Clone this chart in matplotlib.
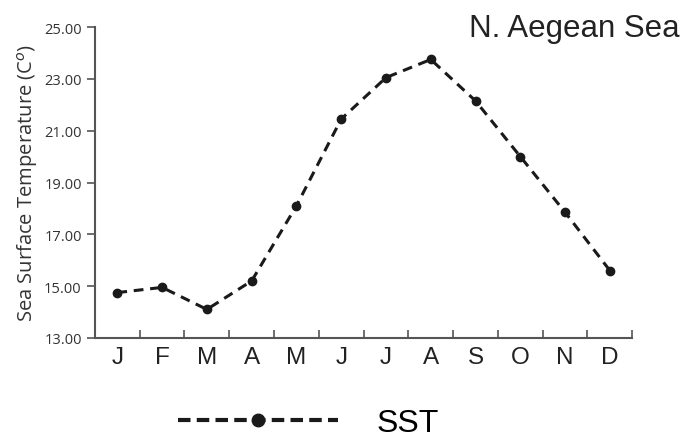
import numpy as np
from matplotlib import pyplot as plt
from matplotlib.lines import Line2D

months = ['J', 'F', 'M', 'A', 'M', 'J', 'J', 'A', 'S', 'O', 'N', 'D']
sst = [14.75, 14.95, 14.1, 15.2, 18.1, 21.45, 23.05, 23.75, 22.15, 20.0, 17.85, 15.6]
yticks = [13, 15, 17, 19, 21, 23, 25]

plt.rcParams['font.family'] = ['Liberation Sans', 'DejaVu Sans']

fig = plt.figure(figsize=(6.88, 4.39), dpi=100)
ax = fig.add_axes([0.138, 0.228, 0.781, 0.708])

x = np.arange(len(months)) + 0.5
ax.plot(x, sst, color='#1a1a1a', lw=2.2, ls=(0, (3.2, 2.2)), marker='o', ms=6)

ax.set_xlim(0, 12)
ax.set_ylim(13, 25)
ax.set_yticks(yticks)
ax.set_yticklabels(['%.2f' % v for v in yticks], fontsize=10.5, color='#333333',
                   family=['Open Sans', 'DejaVu Sans'])
ax.set_xticks(np.arange(13))
ax.set_xticklabels([])
ax.set_xticks(x, minor=True)
ax.set_xticklabels(months, minor=True, fontsize=17.5, color='#222222')
ax.tick_params(axis='x', which='major', direction='in', length=6, color='#555555', width=1.2)
ax.tick_params(axis='x', which='minor', length=0, pad=6)
ax.tick_params(axis='y', direction='out', length=6, color='#555555', width=1.2)

for side in ['top', 'right']:
    ax.spines[side].set_visible(False)
for side in ['left', 'bottom']:
    ax.spines[side].set_color('#555555')
    ax.spines[side].set_linewidth(1.5)

ax.set_ylabel('Sea Surface Temperature (C$^{o}$)', fontsize=14.5, color='#333333', labelpad=3,
              family=['Open Sans', 'DejaVu Sans'])

fig.text(0.988, 0.916, 'N. Aegean Sea', ha='right', va='baseline', fontsize=22.5, color='#222222')

h = Line2D([], [], color='#1a1a1a', lw=3, ls=(0, (3, 1.5)), marker='o', ms=9)
fig.legend([h], ['SST'], loc='center', bbox_to_anchor=(0.448, 0.034), frameon=False,
           fontsize=23, handlelength=5, handletextpad=1.2, numpoints=1)

plt.savefig('out.png', dpi=100)
